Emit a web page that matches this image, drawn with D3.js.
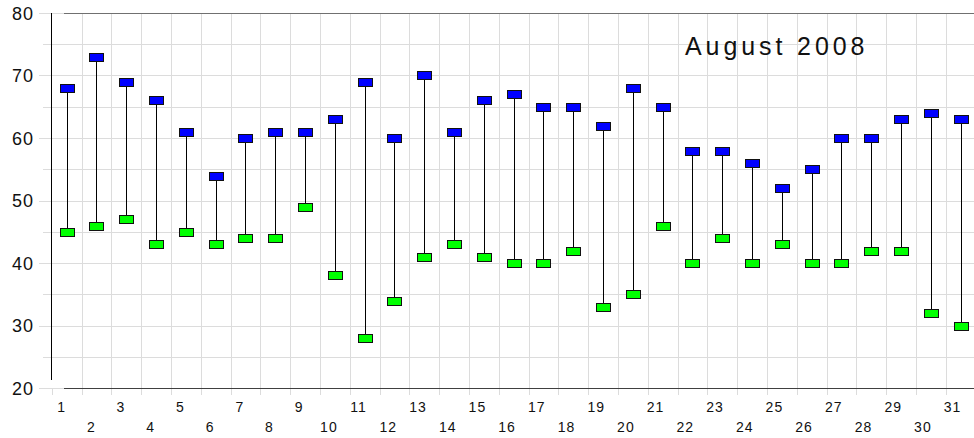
<!DOCTYPE html>
<html><head><meta charset="utf-8">
<script src="https://cdn.jsdelivr.net/npm/d3@7"></script>
<style>body{margin:0;background:#fff}svg{display:block}text{font-family:"Liberation Sans",Arial,sans-serif;fill:#111}</style>
</head><body>
<svg id="c" width="974" height="438"></svg>
<script>
const days = d3.range(1, 32);
const highs = [68,73,69,66,61,54,60,61,61,63,69,60,70,61,66,67,65,65,62,68,65,58,58,56,52,55,60,60,63,64,63];
const lows  = [45,46,47,43,45,43,44,44,49,38,28,34,41,43,41,40,40,42,33,35,46,40,44,40,43,40,40,42,42,32,30];
const yTicks = [20,30,40,50,60,70,80];
const yMinor = [25,35,45,55,65,75];
const title = "August 2008";

const svg = d3.select("#c");
const x0 = 51.7, bw = 29.8;
const x = d3.scaleLinear().domain([0.5, 31.5]).range([x0, x0 + 31*bw]);
const y = d3.scaleLinear().domain([20, 80]).range([388, 13]);

// grid
const g = svg.append("g").attr("shape-rendering","crispEdges");
g.selectAll(".hg").data(yTicks.concat(yMinor)).join("line")
  .attr("x1", d => yTicks.includes(d) ? 39 : 43).attr("x2", 974)
  .attr("y1", d => Math.round(y(d))+0.5).attr("y2", d => Math.round(y(d))+0.5)
  .attr("stroke", "#dcdcdc").attr("stroke-width", 1);
g.selectAll(".vg").data(d3.range(1, 32)).join("line")
  .attr("x1", d => Math.round(x(d+0.5))+0.5).attr("x2", d => Math.round(x(d+0.5))+0.5)
  .attr("y1", 13).attr("y2", 395)
  .attr("stroke", "#dcdcdc");
g.append("line").attr("x1", Math.round(x0)+0.5).attr("x2", Math.round(x0)+0.5).attr("y1", 388).attr("y2", 395).attr("stroke","#dcdcdc");

// frame
g.append("line").attr("x1", 64).attr("x2", 974).attr("y1", 13.5).attr("y2", 13.5).attr("stroke", "#707070");
g.append("line").attr("x1", 64).attr("x2", 974).attr("y1", 388.5).attr("y2", 388.5).attr("stroke", "#404040");
g.append("line").attr("x1", 51.5).attr("x2", 51.5).attr("y1", 13).attr("y2", 380).attr("stroke", "#000");

// y labels
svg.selectAll(".yl").data(yTicks).join("text")
  .attr("x", 34).attr("y", d => y(d) + 6.5)
  .attr("text-anchor", "end").attr("font-size", 18).style("letter-spacing","1px")
  .text(d => d);

// x labels
svg.selectAll(".xl").data(days).join("text")
  .attr("x", d => x(d) - 5 - 0.1*(d-1))
  .attr("y", d => d % 2 ? 411.5 : 431.5)
  .attr("text-anchor", "middle").attr("font-size", 14).style("letter-spacing","1px")
  .text(d => d);

// stems
const m = svg.append("g");
m.selectAll(".st").data(days).join("line")
  .attr("x1", d => Math.round(x(d))+0.5).attr("x2", d => Math.round(x(d))+0.5)
  .attr("y1", (d,i) => y(highs[i])).attr("y2", (d,i) => y(lows[i]))
  .attr("stroke", "#000").attr("stroke-width", 1).attr("shape-rendering","crispEdges");

const mw = 14, mh = 8;
m.selectAll(".hi").data(days).join("rect")
  .attr("x", d => Math.round(x(d)) - mw/2 + 0.5).attr("y", (d,i) => Math.round(y(highs[i]) - mh/2) + 0.5)
  .attr("width", mw).attr("height", mh)
  .attr("fill", "#0000ff").attr("stroke", "#111").attr("stroke-width", 1);
m.selectAll(".lo").data(days).join("rect")
  .attr("x", d => Math.round(x(d)) - mw/2 + 0.5).attr("y", (d,i) => Math.round(y(lows[i]) - mh/2) + 0.5)
  .attr("width", mw).attr("height", mh)
  .attr("fill", "#00ff00").attr("stroke", "#111").attr("stroke-width", 1);

// title
svg.append("text").attr("x", 685).attr("y", 55).attr("font-size", 25)
  .style("letter-spacing", "3.9px").text(title);
</script>
</body></html>
